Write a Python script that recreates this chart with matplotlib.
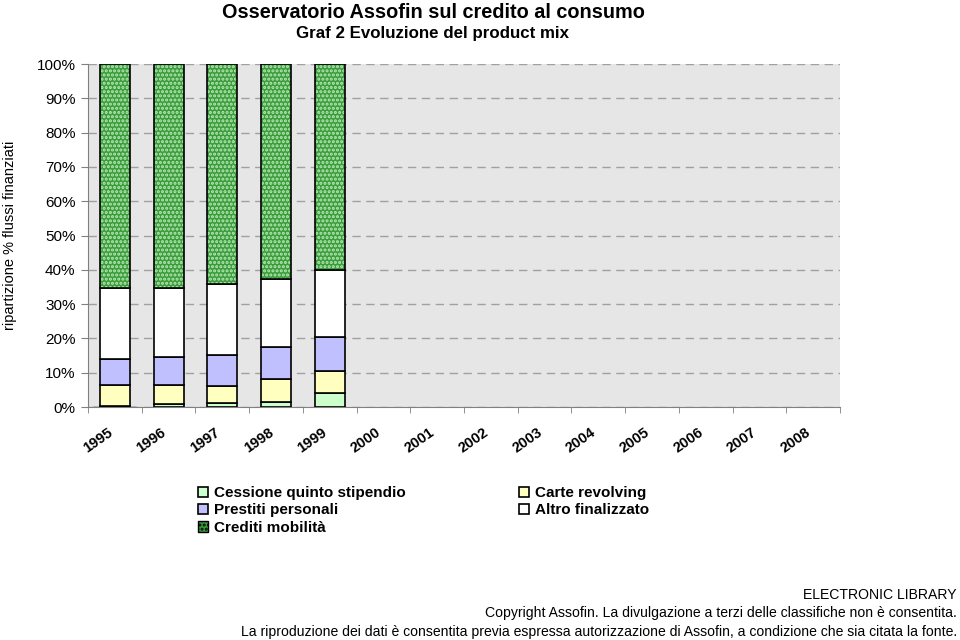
import numpy as np
import matplotlib.pyplot as plt

plt.rcParams['font.family'] = ['Liberation Sans', 'DejaVu Sans']

anni = ['1995', '1996', '1997', '1998', '1999', '2000', '2001', '2002',
        '2003', '2004', '2005', '2006', '2007', '2008']
# quote % per anno (solo 1995-1999 disponibili)
cessione = [0.2, 0.8, 1.1, 1.5, 4.0]
carte = [6.2, 5.5, 5.0, 6.8, 6.5]
prestiti = [7.6, 8.2, 9.2, 9.3, 9.8]
altro = [20.8, 20.2, 20.7, 19.6, 19.6]
crediti = [65.2, 65.3, 64.0, 62.8, 60.1]

fig = plt.figure(figsize=(9.6, 6.4), dpi=100)
ax = fig.add_axes([0.0917, 0.364, 0.7833, 0.536])
ax.set_facecolor('#e6e6e6')

x = np.arange(len(cessione))
w = 0.56
base = np.zeros(len(cessione))
hs = []
for vals, col, lab in [(cessione, '#ccffcc', 'Cessione quinto stipendio'),
                       (carte, '#ffffc0', 'Carte revolving'),
                       (prestiti, '#c0c0ff', 'Prestiti personali'),
                       (altro, '#ffffff', 'Altro finalizzato')]:
    h = ax.bar(x, vals, w, bottom=base, color=col, edgecolor='black', linewidth=1.2, label=lab, zorder=3)
    hs.append(h)
    base = base + np.array(vals)
# crediti mobilita con retino
plt.rcParams['hatch.linewidth'] = 1.5
hc = ax.bar(x, crediti, w, bottom=base, color='#3c9c3c', edgecolor='#b8eab8', hatch='....',
            linewidth=0, zorder=3)
ax.bar(x, crediti, w, bottom=base, fill=False, edgecolor='black', linewidth=1.2, zorder=4)
hcl = ax.bar([0], [0], color='#3c9c3c', edgecolor='black', hatch='....', label='Crediti mobilità')

ax.set_xlim(-0.5, len(anni) - 0.5)
ax.set_ylim(0, 100)
ax.set_yticks(np.arange(0, 101, 10))
ax.set_yticklabels([str(v) + '%' for v in range(0, 101, 10)], fontsize=11)
ax.yaxis.grid(True, linestyle=(0, (6, 4)), color='#a0a0a0', linewidth=1, zorder=0)
ax.set_xticks(np.arange(len(anni)))
ax.set_xticklabels(anni, rotation=35, fontsize=10.5, fontweight='bold', ha='right')
ax.tick_params(axis='x', length=0, pad=13)
ax.set_xticks(np.arange(len(anni) + 1) - 0.5, minor=True)
ax.tick_params(axis='x', which='minor', length=4, color='#808080')
ax.tick_params(axis='y', length=5, color='#808080', pad=4)
for s in ['top', 'right']:
    ax.spines[s].set_visible(False)
for s in ['left', 'bottom']:
    ax.spines[s].set_color('#808080')

ax.set_ylabel('ripartizione % flussi finanziati', fontsize=10.5)
ax.yaxis.set_label_coords(-0.094, 0.5)

fig.text(0.452, 0.981, 'Osservatorio Assofin sul credito al consumo', fontsize=14.3, fontweight='bold',
         ha='center', va='center')
fig.text(0.45, 0.947, 'Graf 2 Evoluzione del product mix', fontsize=12.2, fontweight='bold',
         ha='center', va='center')

handles = [hs[0], hs[2], hcl, hs[1], hs[3]]
fig.legend(handles=handles, labels=[h.get_label() for h in handles], ncol=2, loc='upper left',
           bbox_to_anchor=(0.206, 0.24), frameon=False, handlelength=0.7,
           handleheight=0.7, handletextpad=0.35, labelspacing=0.2, columnspacing=7.4,
           borderaxespad=0, borderpad=0, prop={'weight': 'bold', 'size': 11})

fig.text(0.997, 0.07, 'ELECTRONIC LIBRARY', fontsize=10.1, ha='right', va='center')
fig.text(0.997, 0.042, 'Copyright Assofin. La divulgazione a terzi delle classifiche non è consentita.',
         fontsize=10.1, ha='right', va='center')
fig.text(0.997, 0.013, 'La riproduzione dei dati è consentita previa espressa autorizzazione di Assofin, '
         'a condizione che sia citata la fonte.', fontsize=10.1, ha='right', va='center')

fig.savefig('out.png', dpi=100)
